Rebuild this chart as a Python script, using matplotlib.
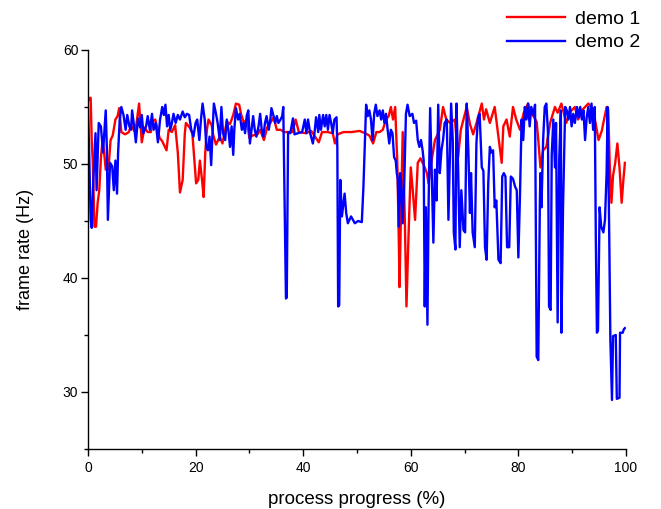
import matplotlib.pyplot as plt
from matplotlib.ticker import MultipleLocator

plt.rcParams['font.family'] = ['Liberation Sans', 'DejaVu Sans']

# demo 1 (red): progress (%) and frame rate (Hz)
demo1_x = [0.0, 0.3, 0.5, 0.7, 0.9, 1.2, 1.5, 1.8, 2.1, 2.4, 2.7, 3.0, 3.3, 3.8,
           4.2, 4.6, 5.1, 5.5, 5.8, 6.2, 6.9, 7.6, 8.0, 8.6, 9.0, 9.5, 10.0, 10.5,
           11.1, 11.7, 11.9, 12.5, 13.3, 13.8, 14.3, 14.6, 15.0, 15.6, 16.2, 16.7,
           17.1, 17.6, 18.0, 18.2, 18.9, 19.4, 20.1, 20.5, 20.8, 21.2, 21.5, 21.8,
           22.1, 22.4, 23.0, 23.3, 23.8, 24.5, 25.0, 25.8, 26.4, 27.0, 27.5, 28.1,
           28.5, 29.0, 29.5, 30.0, 30.6, 31.5, 32.0, 32.7, 33.3, 33.9, 34.5, 35.1,
           35.8, 36.5, 37.3, 38.0, 38.6, 39.2, 40.5, 41.5, 42.9, 43.5, 44.5, 45.5,
           45.9, 46.4, 47.5, 49.0, 50.5, 51.5, 52.3, 53.0, 53.6, 54.2, 54.8, 55.4,
           55.9, 56.3, 56.7, 57.1, 57.5, 57.8, 57.9, 58.2, 58.5, 58.9, 59.2, 59.6,
           60.0, 60.4, 60.8, 61.3, 61.8, 62.5, 63.0, 63.3, 63.8, 64.5, 65.4, 66.0,
           66.6, 67.3, 68.2, 68.8, 69.3, 70.4, 71.0, 71.6, 72.4, 73.2, 73.6, 74.0,
           74.7, 75.6, 76.3, 76.9, 77.2, 77.8, 78.4, 79.0, 79.6, 80.3, 81.0, 81.8,
           82.4, 83.4, 83.7, 84.1, 84.6, 85.2, 85.9, 86.8, 87.3, 88.0, 88.9, 89.5,
           90.5, 91.1, 92.0, 93.0, 93.9, 94.9, 95.5, 96.4, 96.7, 97.0, 97.3, 97.6,
           98.0, 98.4, 98.8, 99.2, 99.5, 99.8]
demo1_y = [55.5, 55.8, 55.8, 52.0, 50.1, 44.5, 44.5, 46.6, 47.7, 50.5, 52.1, 51.0, 49.5, 49.5,
           52.1, 52.5, 53.9, 54.2, 54.9, 52.8, 52.6, 52.8, 53.4, 52.9, 53.5, 55.3, 51.9, 53.2,
           52.8, 52.8, 53.7, 53.9, 52.3, 52.0, 51.5, 51.2, 53.0, 52.8, 53.4, 51.0,
           47.5, 48.6, 52.7, 53.6, 53.2, 52.7, 48.3, 48.6, 50.3, 48.6, 47.1, 51.0,
           53.0, 53.9, 53.4, 52.5, 51.7, 52.4, 51.8, 53.7, 53.5, 54.3, 55.3, 55.2,
           54.3, 53.6, 53.9, 52.3, 52.5, 52.6, 53.0, 52.1, 53.2, 53.6, 54.1, 53.0,
           53.0, 52.8, 52.8, 52.8, 53.9, 52.8, 52.7, 52.9, 51.9, 52.8, 52.8, 52.7,
           51.8, 52.6, 52.8, 52.8, 52.9, 52.7, 52.5, 51.8, 52.8, 52.8, 53.0, 53.9,
           54.2, 55.0, 53.9, 55.0, 50.1, 42.7, 39.2, 46.0, 52.8, 45.0, 37.5, 44.0,
           49.7, 47.5, 45.1, 50.1, 50.5, 49.8, 49.2, 48.3, 50.1, 52.1, 53.0, 55.0,
           53.9, 53.6, 53.9, 50.6, 53.0, 55.0, 53.5, 52.6, 53.9, 55.3, 53.9, 54.8,
           53.6, 55.0, 52.4, 50.1, 53.3, 53.9, 52.4, 55.0, 53.9, 53.0, 54.5, 55.3,
           54.5, 53.7, 52.1, 49.7, 51.2, 51.5, 53.6, 55.0, 54.5, 55.3, 53.6, 54.5,
           55.0, 53.9, 54.8, 55.3, 54.8, 52.1, 52.9, 55.0, 54.8, 49.7, 46.6, 49.0,
           50.1, 51.8, 49.7, 46.6, 48.5, 50.1]

# demo 2 (blue)
demo2_x = [0.0, 0.2, 0.5, 0.7, 1.0, 1.4, 1.6, 2.0, 2.4, 2.8, 3.3, 3.5, 3.7, 4.1,
           4.5, 4.8, 5.1, 5.4, 5.6, 5.9, 6.2, 6.6, 7.0, 7.3, 7.7, 8.0, 8.2, 8.6,
           8.9, 9.3, 9.7, 10.0, 10.3, 10.8, 11.1, 11.5, 11.9, 12.2, 12.6, 13.0,
           13.4, 13.8, 14.1, 14.4, 14.7, 15.0, 15.3, 15.6, 15.9, 16.3, 16.7, 17.1,
           17.6, 18.0, 18.4, 18.8, 19.2, 19.6, 20.0, 20.3, 20.7, 21.0, 21.3, 21.7,
           22.0, 22.3, 22.6, 22.9, 23.2, 23.4, 23.8, 24.1, 24.5, 24.8, 25.1, 25.5,
           25.8, 26.1, 26.4, 26.7, 27.0, 27.2, 27.5, 27.9, 28.2, 28.6, 28.9, 29.2,
           29.5, 29.8, 30.1, 30.4, 30.7, 31.0, 31.3, 31.7, 32.0, 32.3, 32.6, 32.9,
           33.2, 33.6, 33.9, 34.1, 34.5, 34.8, 35.1, 35.4, 35.8, 36.1, 36.3, 36.6,
           36.8, 36.95, 37.2, 37.6, 38.1, 38.4, 39.0, 39.8, 40.3, 40.6, 40.9, 41.3,
           41.8, 42.1, 42.4, 42.8, 43.0, 43.3, 43.7, 44.0, 44.3, 44.6, 44.9, 45.2,
           45.5, 45.8, 46.2, 46.35, 46.5, 46.7, 46.9, 47.2, 47.7, 48.0, 48.3, 48.9,
           49.6, 50.2, 50.9, 51.2, 51.7, 52.0, 52.3, 52.6, 52.9, 53.2, 53.5, 53.8,
           54.2, 54.5, 54.8, 55.1, 55.4, 55.7, 56.0, 56.3, 56.6, 56.9, 57.2, 57.4,
           57.6, 57.8, 58.0, 58.2, 58.5, 58.8, 59.1, 59.4, 59.8, 60.3, 60.6, 61.0,
           61.3, 61.6, 61.9, 62.2, 62.4, 62.6, 62.8, 63.1, 63.3, 63.6, 63.9, 64.2,
           64.5, 64.8, 65.1, 65.4, 65.7, 66.0, 66.3, 66.7, 67.0, 67.2, 67.5, 67.8,
           68.0, 68.3, 68.5, 68.8, 69.1, 69.4, 69.8, 70.1, 70.4, 70.7, 71.0, 71.2,
           71.5, 71.9, 72.2, 72.5, 72.8, 73.2, 73.5, 73.8, 74.1, 74.4, 74.7, 75.0,
           75.3, 75.6, 75.9, 76.3, 76.7, 77.0, 77.3, 77.6, 77.9, 78.3, 78.6, 79.0,
           79.4, 79.7, 80.0, 80.3, 80.6, 80.9, 81.2, 81.5, 81.8, 82.1, 82.4, 82.8,
           83.1, 83.4, 83.7, 84.0, 84.1, 84.3, 84.6, 84.9, 85.2, 85.5, 85.7, 86.0,
           86.2, 86.5, 86.8, 87.0, 87.3, 87.6, 87.9, 88.0, 88.3, 88.7, 89.0, 89.3,
           89.6, 89.9, 90.2, 90.5, 90.9, 91.2, 91.5, 91.8, 92.1, 92.4, 92.7, 93.0,
           93.3, 93.6, 93.9, 94.2, 94.4, 94.6, 94.8, 95.1, 95.4, 95.8, 96.1, 96.4,
           96.6, 96.9, 97.1, 97.4, 97.6, 98.1, 98.3, 98.8, 98.9, 99.4, 99.6, 99.8]
demo2_y = [55.0, 51.5, 45.1, 44.4, 48.6, 52.7, 47.7, 53.6, 53.3, 51.0, 54.7, 51.5, 45.1, 50.1,
           49.8, 47.7, 50.3, 47.4, 51.0, 53.9, 55.0, 54.3, 53.0, 54.3, 53.3, 53.0, 54.7, 53.2,
           51.9, 54.0, 53.2, 54.3, 52.7, 53.3, 54.2, 53.0, 54.4, 53.0, 53.6, 51.9,
           53.9, 55.0, 54.3, 55.2, 53.3, 54.3, 53.0, 53.6, 54.4, 53.6, 54.3, 53.9,
           54.6, 54.1, 54.4, 54.3, 53.0, 52.4, 53.6, 53.9, 52.1, 53.9, 55.3, 53.9,
           51.5, 51.2, 52.4, 49.9, 53.3, 55.3, 54.4, 53.6, 52.1, 55.0, 52.7, 52.1,
           53.9, 53.0, 51.5, 53.3, 50.8, 53.0, 54.9, 53.9, 54.4, 53.0, 53.6, 52.7,
           54.2, 54.7, 51.8, 53.0, 54.2, 53.0, 52.4, 53.3, 54.4, 53.0, 52.4, 53.6,
           54.2, 53.0, 53.9, 54.9, 54.2, 53.6, 54.2, 53.6, 53.9, 54.2, 55.0, 45.0,
           38.2, 38.3, 52.8, 52.7, 54.0, 52.6, 52.7, 52.8, 53.9, 52.7, 53.9, 52.7,
           51.8, 52.7, 54.1, 52.8, 54.3, 53.0, 54.3, 53.3, 54.3, 53.0, 54.3, 53.6,
           52.7, 53.9, 54.1, 51.5, 37.5, 37.6, 48.6, 45.4, 47.4, 45.7, 44.8, 45.4,
           44.8, 45.0, 44.9, 48.0, 55.2, 54.2, 54.7, 53.9, 52.1, 54.4, 55.2, 54.2,
           54.7, 53.9, 54.7, 53.6, 54.4, 53.0, 51.8, 53.0, 52.7, 50.6, 50.3, 49.2,
           48.6, 44.5, 49.2, 48.6, 44.8, 48.6, 54.4, 55.2, 54.2, 54.4, 53.6, 53.8,
           52.1, 51.5, 52.1, 51.2, 50.3, 37.5, 46.2, 35.9, 46.0, 54.9, 49.2, 43.1,
           49.5, 46.8, 55.2, 49.2, 51.2, 52.1, 53.6, 53.9, 45.1, 49.2, 55.3, 52.1,
           44.0, 42.5, 55.3, 49.7, 42.7, 47.7, 44.2, 44.0, 55.3, 51.2, 45.7, 49.2,
           44.0, 42.7, 51.8, 54.1, 54.4, 49.7, 49.4, 42.7, 41.6, 48.3, 51.5, 51.0,
           51.2, 46.2, 46.8, 41.6, 41.3, 48.9, 49.2, 48.9, 42.7, 42.7, 48.9, 48.7,
           48.0, 47.7, 41.8, 47.3, 53.9, 52.1, 55.0, 53.9, 55.3, 53.3, 55.0, 54.3,
           55.2, 33.1, 32.8, 46.8, 49.2, 46.2, 52.1, 55.0, 55.3, 52.8, 37.5, 37.2,
           50.8, 53.9, 49.7, 53.6, 36.1, 50.5, 54.7, 35.2, 46.2, 55.0, 54.7, 53.9,
           55.0, 53.3, 54.4, 53.6, 55.0, 54.1, 55.0, 53.9, 54.7, 52.1, 54.1, 55.0,
           53.6, 55.3, 53.0, 55.0, 43.3, 35.2, 35.4, 46.2, 44.5, 44.0, 45.1, 49.2,
           55.0, 43.3, 34.6, 29.3, 34.9, 35.0, 29.4, 29.5, 35.2, 35.2, 35.5, 35.6]

fig = plt.figure(figsize=(6.61, 5.09), dpi=100)
ax = fig.add_axes([0.1331, 0.1179, 0.8139, 0.7839])

ax.plot(demo1_x, demo1_y, color='#ff0000', lw=1.7, label='demo 1')
ax.plot(demo2_x, demo2_y, color='#0000ff', lw=1.7, label='demo 2')

ax.set_xlim(0, 100)
ax.set_ylim(25, 60)
ax.xaxis.set_major_locator(MultipleLocator(20))
ax.xaxis.set_minor_locator(MultipleLocator(10))
ax.yaxis.set_major_locator(MultipleLocator(10))
ax.yaxis.set_minor_locator(MultipleLocator(5))
ax.set_yticks([30, 40, 50, 60])

for s in ['top', 'right']:
    ax.spines[s].set_visible(False)
for s in ['left', 'bottom']:
    ax.spines[s].set_linewidth(1.0)

ax.tick_params(which='major', direction='out', length=5, width=1.0, labelsize=10)
ax.tick_params(axis='y', which='major', pad=2)
ax.tick_params(which='minor', direction='out', length=3, width=1.0)

ax.set_xlabel('process progress (%)', fontsize=13.5, labelpad=12)
ax.set_ylabel('frame rate (Hz)', fontsize=13, labelpad=21)

fig.legend(loc='upper right', bbox_to_anchor=(0.995, 1.014), frameon=False,
           fontsize=14, handlelength=3.0, handletextpad=0.5, labelspacing=0.3)

fig.savefig('out.png', dpi=100)
